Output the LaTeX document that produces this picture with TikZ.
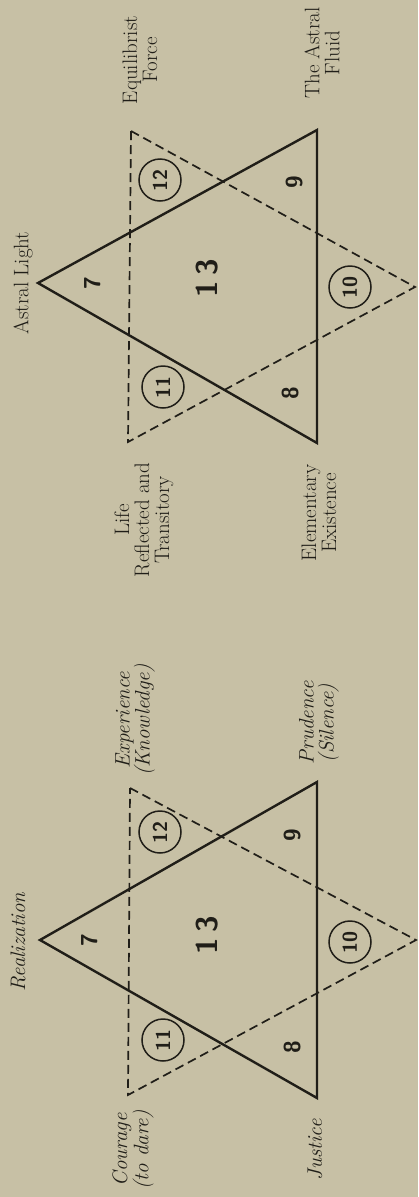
\documentclass[tikz,border=0pt]{standalone}
\usepackage{fontspec}
\definecolor{bgc}{RGB}{199,192,165}
\definecolor{inkc}{RGB}{32,30,24}
\begin{document}
\begin{tikzpicture}[x=1pt,y=-1pt,
  solidln/.style={draw=inkc, line width=2.4pt, line join=miter},
  dashln/.style={draw=inkc, line width=1.7pt, dash pattern=on 9pt off 5pt},
  lbl/.style={rotate=90, align=center, text=inkc, inner sep=0pt, font=\fontsize{21}{20}\selectfont},
  ilbl/.style={rotate=90, align=center, text=inkc, inner sep=0pt, font=\itshape\fontsize{21}{20}\selectfont},
  num/.style={rotate=90, text=inkc, inner sep=0pt, font=\sffamily\bfseries\fontsize{23}{23}\selectfont},
  bignum/.style={rotate=90, text=inkc, inner sep=0pt, font=\sffamily\bfseries\fontsize{30}{30}\selectfont},
  cnum/.style={rotate=90, circle, draw=inkc, line width=1.5pt, minimum size=42pt, inner sep=0pt, text=inkc, font=\sffamily\bfseries\fontsize{20}{20}\selectfont}]
\fill[bgc] (0,0) rectangle (418,1197);
\useasboundingbox (0,0) rectangle (418,1197);

% ---------- upper star ----------
\coordinate (A1) at (38,283);
\coordinate (B1) at (317,130);
\coordinate (C1) at (317,443);
\coordinate (D1) at (415,287);
\coordinate (E1) at (131,131);
\coordinate (F1) at (128,442);
\draw[dashln] (E1) -- (D1) -- (F1) -- cycle;
\draw[solidln] (A1) -- (B1) -- (C1) -- cycle;

\node[num] (u7) at (93,283) {7};
\node[bignum] (u13) at (207,278) {1\,3};
\node[cnum] (u12) at (160,180) {12};
\node[num] (u9) at (295,182) {9};
\node[cnum] (u11) at (163,387) {11};
\node[num] (u8) at (291,393) {8};
\node[cnum] (u10) at (350,287) {10};

\node[lbl] (ual) at (23,283) {Astral Light};
\node[lbl] (uef) at (140,60) {Equilibrist\\Force};
\node[lbl] (uaf) at (322,53) {The Astral\\Fluid};
\node[lbl] (ulr) at (144,520) {Life\\Reflected and\\Transitory};
\node[lbl] (uee) at (319,513) {Elementary\\Existence};

% ---------- lower star ----------
\coordinate (A2) at (40,940);
\coordinate (B2) at (317,782);
\coordinate (C2) at (317,1098);
\coordinate (D2) at (416,940);
\coordinate (E2) at (130,788);
\coordinate (F2) at (128,1095);
\draw[dashln] (E2) -- (D2) -- (F2) -- cycle;
\draw[solidln] (A2) -- (B2) -- (C2) -- cycle;

\node[num] (l7) at (90,940) {7};
\node[bignum] (l13) at (207,935) {1\,3};
\node[cnum] (l12) at (160,832) {12};
\node[num] (l9) at (293,835) {9};
\node[cnum] (l11) at (163,1040) {11};
\node[num] (l8) at (293,1047) {8};
\node[cnum] (l10) at (350,942) {10};

\node[ilbl] (lre) at (18,942) {Realization};
\node[ilbl] (lek) at (135,720) {Experience\\(Knowledge)};
\node[ilbl] (lps) at (319,723) {Prudence\\(Silence)};
\node[ilbl] (lcd) at (133,1150) {Courage\\(to dare)};
\node[ilbl] (lju) at (315,1150) {Justice};
\end{tikzpicture}
\end{document}
